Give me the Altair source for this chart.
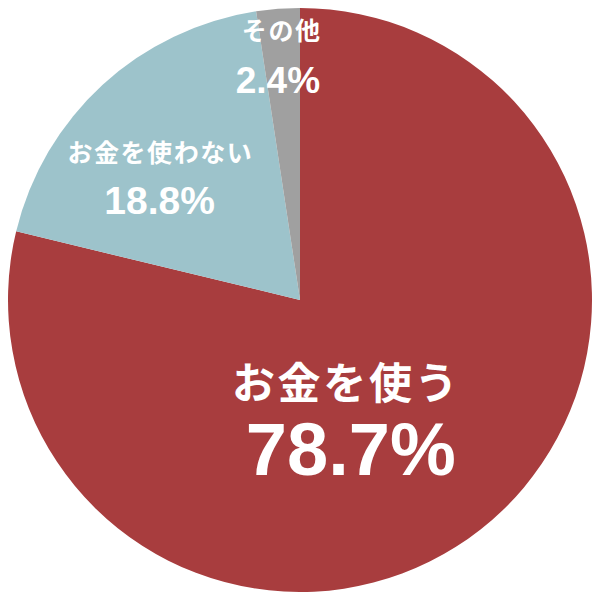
import altair as alt
import pandas as pd

categories = ["お金を使う", "お金を使わない", "その他"]
shares = [78.7, 18.8, 2.4]
pct_labels = ["78.7%", "18.8%", "2.4%"]
slice_order = [0, 1, 2]
colors = ["#A83D3E", "#9DC3CB", "#A0A0A0"]

df = pd.DataFrame({
    "cat": categories,
    "share": shares,
    "pct": pct_labels,
    "rank": slice_order,
    "name": ["\u200a".join(list(c)) for c in categories],
})

base = alt.Chart(df).encode(
    theta=alt.Theta("share:Q", stack=True),
    order=alt.Order("rank:Q", sort="ascending"),
)

arc = base.mark_arc(outerRadius=292, strokeWidth=0).encode(
    color=alt.Color("cat:N", scale=alt.Scale(domain=categories, range=colors), legend=None)
)


def label(cat, field, font, size, r, dx, dy):
    return base.mark_text(
        radius=r, dx=dx, dy=dy, font=font, fontSize=size, fontWeight="bold",
        color="white", align="center", baseline="alphabetic",
    ).encode(
        text=alt.condition(alt.datum.cat == cat, alt.Text(f"{field}:N"), alt.value(""))
    )


jp = "Noto Sans CJK JP"
lat = "Liberation Sans"
layers = [
    arc,
    label(categories[0], "name", jp, 43, 150, -48, -19),
    label(categories[0], "pct", lat, 74, 150, -42, 57),
    label(categories[1], "name", jp, 25, 190, -12, 2),
    label(categories[1], "pct", lat, 39, 190, -12, 54),
    label(categories[2], "name", jp, 25, 240, -1, -21),
    label(categories[2], "pct", lat, 37, 240, -4, 32),
]

chart = alt.layer(*layers).properties(
    width=584, height=584, autosize="none",
    padding=0,
    background="white",
).configure_view(stroke=None)

chart.save("out.html", embed_options={"renderer": "svg", "actions": False})
